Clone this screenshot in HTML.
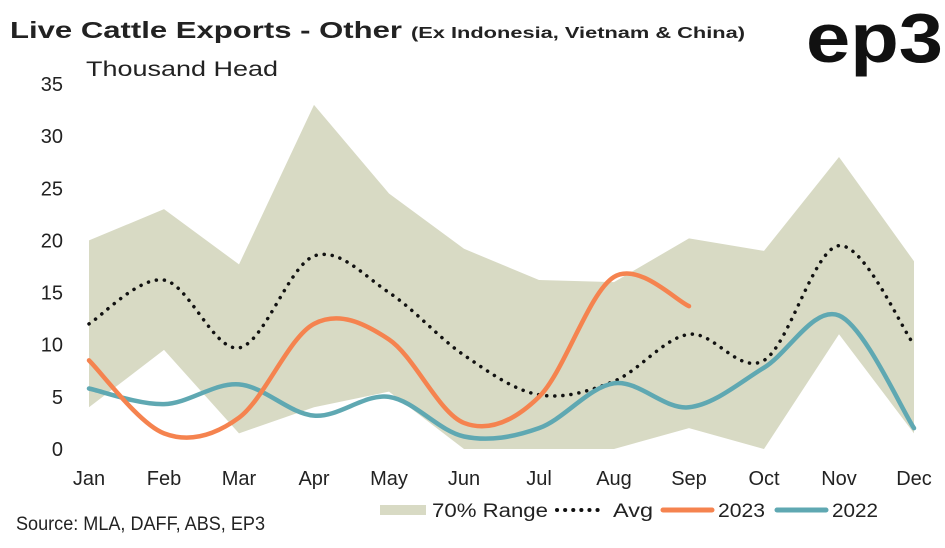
<!DOCTYPE html>
<html><head><meta charset="utf-8"><style>
body{margin:0;background:#fff;font-family:"Liberation Sans",sans-serif;}
svg text{font-family:"Liberation Sans",sans-serif;fill:#222;}
</style></head><body>
<svg id="c" width="945" height="543" xmlns="http://www.w3.org/2000/svg">
<text x="10" y="38" font-size="23" font-weight="bold" textLength="392" lengthAdjust="spacingAndGlyphs">Live Cattle Exports - Other</text>
<text x="411" y="38" font-size="16" font-weight="bold" textLength="334" lengthAdjust="spacingAndGlyphs">(Ex Indonesia, Vietnam &amp; China)</text>
<text x="806" y="62" font-size="70" font-weight="bold" textLength="137" lengthAdjust="spacingAndGlyphs" style="fill:#111">ep3</text>
<text x="86" y="76" font-size="21" textLength="192" lengthAdjust="spacingAndGlyphs">Thousand Head</text>
<text x="16" y="530" font-size="19" textLength="249" lengthAdjust="spacingAndGlyphs">Source: MLA, DAFF, ABS, EP3</text>
<g id="plot"></g>
<g id="legend">
<rect x="380" y="505" width="46" height="10" fill="#d8dac4"/>
<text x="432" y="517" font-size="19" textLength="116" lengthAdjust="spacingAndGlyphs">70% Range</text>
<line x1="557" y1="510" x2="600" y2="510" stroke="#111" stroke-width="4" stroke-dasharray="0.1 8" stroke-linecap="round"/>
<text x="613" y="517" font-size="19" textLength="40" lengthAdjust="spacingAndGlyphs">Avg</text>
<line x1="663" y1="510" x2="712" y2="510" stroke="#f5834f" stroke-width="5" stroke-linecap="round"/>
<text x="718" y="517" font-size="19" textLength="47" lengthAdjust="spacingAndGlyphs">2023</text>
<line x1="777" y1="510" x2="826" y2="510" stroke="#5fa8b2" stroke-width="5" stroke-linecap="round"/>
<text x="832" y="517" font-size="19" textLength="46" lengthAdjust="spacingAndGlyphs">2022</text>
</g>
</svg>
<script>
const months=["Jan","Feb","Mar","Apr","May","Jun","Jul","Aug","Sep","Oct","Nov","Dec"];
const yTicks=[0,5,10,15,20,25,30,35];
const rangeHigh=[20,23,17.7,33,24.5,19.2,16.2,16,20.2,19,28,18];
const rangeLow=[4,9.5,1.5,4,5.5,0,0,0,2,0,11,1.5];
const avg=[12,16.2,9.7,18.5,15,9,5.2,6.5,11,8.5,19.5,10];
const s2023=[8.5,1.5,3,12,10.5,2.5,5,16.5,13.7];
const s2022=[5.8,4.3,6.2,3.2,5,1.2,2,6.3,4,7.8,12.8,2];
const NS="http://www.w3.org/2000/svg";
const x=i=>89+i*75, y=v=>449-v*(365/35);
const g=document.getElementById('plot');
function mk(t,a){const e=document.createElementNS(NS,t);for(const k in a)e.setAttribute(k,a[k]);g.appendChild(e);return e;}
yTicks.forEach(t=>{const e=mk('text',{x:63,y:y(t)+7,'font-size':20,'text-anchor':'end'});e.textContent=t;

});
months.forEach((m,i)=>{const e=mk('text',{x:x(i),y:485,'font-size':20,'text-anchor':'middle'});e.textContent=m;

});
let pts=rangeHigh.map((v,i)=>x(i)+','+y(v)).concat(rangeLow.map((v,i)=>[i,v]).reverse().map(([i,v])=>x(i)+','+y(v)));
const band=mk('polygon',{points:pts.join(' '),fill:'#d8dac4'});


function spline(vals){const p=vals.map((v,i)=>[x(i),y(v)]);let d='M'+p[0];
for(let i=0;i<p.length-1;i++){const p0=p[i-1]||p[i],p1=p[i],p2=p[i+1],p3=p[i+2]||p2;const t=6;
d+=' C'+(p1[0]+(p2[0]-p0[0])/t)+','+(p1[1]+(p2[1]-p0[1])/t)+' '+(p2[0]-(p3[0]-p1[0])/t)+','+(p2[1]-(p3[1]-p1[1])/t)+' '+p2;}return d;}
const a=mk('path',{d:spline(avg),fill:'none',stroke:'#111',"stroke-width":3.5,"stroke-dasharray":"0.1 8","stroke-linecap":"round"});


const l22=mk('path',{d:spline(s2022),fill:'none',stroke:'#5fa8b2',"stroke-width":4.5,"stroke-linecap":"round"});


const l23=mk('path',{d:spline(s2023),fill:'none',stroke:'#f5834f',"stroke-width":4.5,"stroke-linecap":"round"});


</script>
</body></html>
